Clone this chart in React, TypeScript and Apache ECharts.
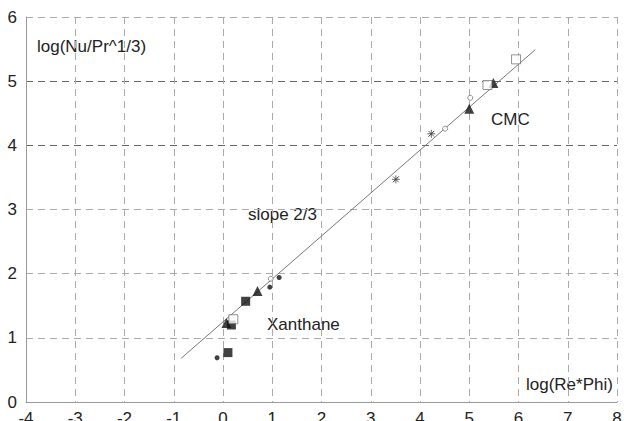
import React, { useEffect, useRef } from "react";
import * as echarts from "echarts";

const xTicks = [-4, -3, -2, -1, 0, 1, 2, 3, 4, 5, 6, 7, 8];
const yTicks = [0, 1, 2, 3, 4, 5, 6];

const filledSquares: [number, number][] = [[0.1, 0.77], [0.17, 1.2], [0.46, 1.57]];
const filledTriangles: [number, number][] = [[0.07, 1.23], [0.7, 1.73], [5.0, 4.57], [5.49, 4.97]];
const filledCircles: [number, number][] = [[-0.12, 0.69], [0.95, 1.79], [1.14, 1.94]];
const openCircles: [number, number][] = [[0.97, 1.92], [4.51, 4.26], [5.02, 4.74]];
const openSquares: [number, number][] = [[0.21, 1.29], [5.37, 4.94], [5.95, 5.34]];
const asterisks: [number, number][] = [[3.51, 3.47], [4.23, 4.18]];
const fitLine: [number, number][] = [[-0.85, 0.68], [6.34, 5.49]];

const FONT = "Liberation Sans";
const ASTERISK = "path://M0 5 L10 5 M5 0 L5 10 M1.5 1.5 L8.5 8.5 M8.5 1.5 L1.5 8.5 Z";

export default function App() {
  const ref = useRef<HTMLDivElement>(null);
  useEffect(() => {
    const chart = echarts.init(ref.current!, undefined, { renderer: "svg" });
    const gridColors = ["#aaa", "#aaa", "#aaa", "#aaa", "#666", "#666", "#aaa"];
    chart.setOption({
      animation: false,
      backgroundColor: "#fff",
      grid: { left: 26, right: 7, top: 17, bottom: 19, containLabel: false, outerBoundsMode: "none" },
      xAxis: {
        type: "value",
        min: xTicks[0],
        max: xTicks[xTicks.length - 1],
        interval: 1,
        axisLine: { onZero: false, lineStyle: { color: "#999", width: 1 } },
        axisTick: { show: false },
        axisLabel: { color: "#222", fontFamily: FONT, fontSize: 17, margin: 8 },
        splitLine: { show: true, lineStyle: { color: "#aaa", type: [7, 5], width: 1 } },
      },
      yAxis: {
        type: "value",
        min: yTicks[0],
        max: yTicks[yTicks.length - 1],
        interval: 1,
        axisLine: { show: true, onZero: false, lineStyle: { color: "#999", width: 1 } },
        axisTick: { show: false },
        axisLabel: { color: "#222", fontFamily: FONT, fontSize: 17, margin: 9 },
        splitLine: { show: true, lineStyle: { color: gridColors, type: [7, 5], width: 1 } },
      },
      graphic: [
        { type: "text", left: 37, top: 38, style: { text: "log(Nu/Pr^1/3)", font: `17px '${FONT}'`, fill: "#222" } },
        { type: "text", left: 526, top: 376, style: { text: "log(Re*Phi)", font: `17px '${FONT}'`, fill: "#222" } },
        { type: "text", left: 491, top: 111, style: { text: "CMC", font: `17px '${FONT}'`, fill: "#222" } },
        { type: "text", left: 248, top: 206, style: { text: "slope 2/3", font: `17px '${FONT}'`, fill: "#222" } },
        { type: "text", left: 267, top: 316, style: { text: "Xanthane", font: `17px '${FONT}'`, fill: "#222" } },
      ],
      series: [
        {
          type: "line",
          data: fitLine,
          symbol: "none",
          lineStyle: { color: "#777", width: 1 },
          z: 1,
        },
        {
          type: "scatter",
          data: filledSquares,
          symbol: "rect",
          symbolSize: 9,
          itemStyle: { color: "#111" },
        },
        {
          type: "scatter",
          data: filledTriangles,
          symbol: "triangle",
          symbolSize: 10,
          itemStyle: { color: "#111" },
        },
        {
          type: "scatter",
          data: filledCircles,
          symbol: "circle",
          symbolSize: 5,
          itemStyle: { color: "#111" },
        },
        {
          type: "scatter",
          data: openCircles,
          symbol: "circle",
          symbolSize: 5,
          itemStyle: { color: "#fff", borderColor: "#555", borderWidth: 0.8 },
        },
        {
          type: "scatter",
          data: openSquares,
          symbol: "rect",
          symbolSize: 9,
          itemStyle: { color: "#fff", borderColor: "#555", borderWidth: 0.8 },
        },
        {
          type: "scatter",
          data: asterisks,
          symbol: ASTERISK,
          symbolSize: 8,
          itemStyle: { color: "none", borderColor: "#444", borderWidth: 1 },
        },
      ],
    });
    return () => chart.dispose();
  }, []);
  return <div ref={ref} style={{ width: 624, height: 421, position: "fixed", left: 0, top: 0 }} />;
}
